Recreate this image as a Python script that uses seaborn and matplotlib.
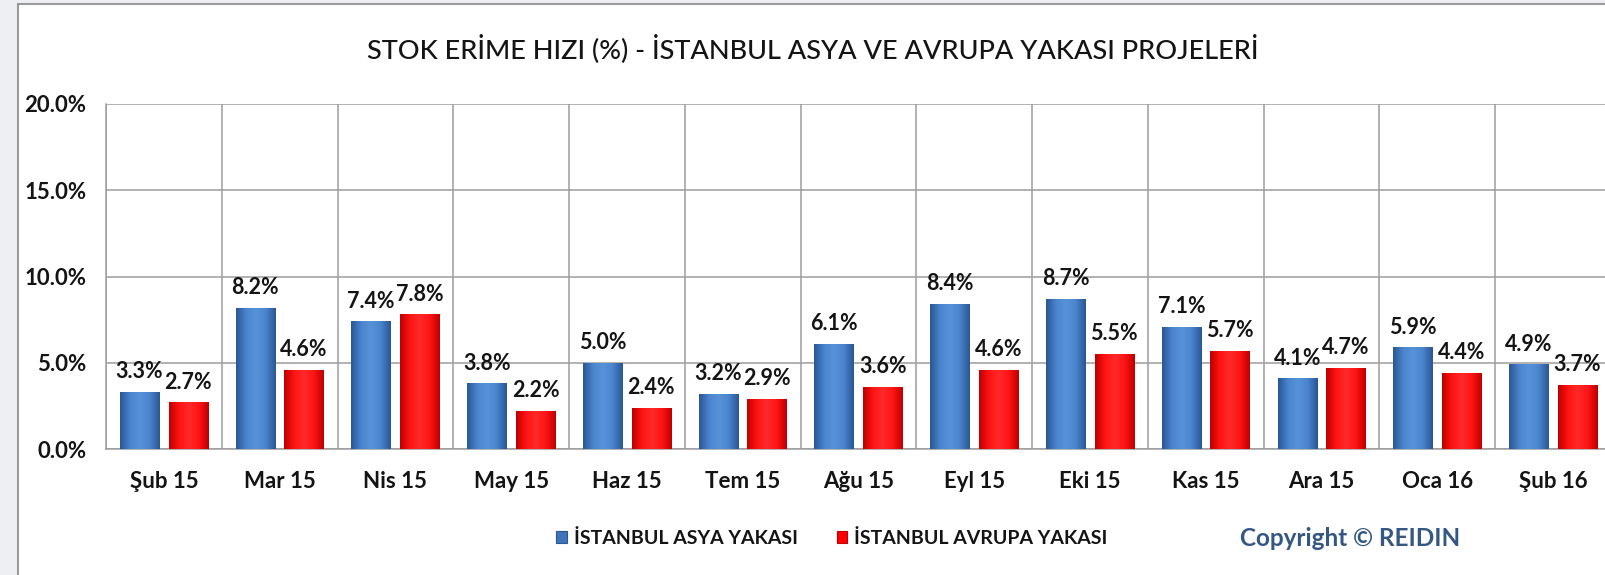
import numpy as np
import pandas as pd
import matplotlib
matplotlib.use("Agg")
import matplotlib.pyplot as plt
import seaborn as sns
from matplotlib.patches import Rectangle, Patch
from matplotlib.colors import LinearSegmentedColormap

# ---- data ----
months = ["Şub 15", "Mar 15", "Nis 15", "May 15", "Haz 15", "Tem 15", "Ağu 15",
          "Eyl 15", "Eki 15", "Kas 15", "Ara 15", "Oca 16", "Şub 16"]
asya = [3.3, 8.2, 7.4, 3.8, 5.0, 3.2, 6.1, 8.4, 8.7, 7.1, 4.1, 5.9, 4.9]
avrupa = [2.7, 4.6, 7.8, 2.2, 2.4, 2.9, 3.6, 4.6, 5.5, 5.7, 4.7, 4.4, 3.7]
series_names = ["İSTANBUL ASYA YAKASI", "İSTANBUL AVRUPA YAKASI"]
yticks = [0, 5, 10, 15, 20]
title = "STOK ERİME HIZI (%) - İSTANBUL ASYA VE AVRUPA YAKASI PROJELERİ"
copyright_text = "Copyright © REIDIN"

df = pd.DataFrame({
    "Ay": months * 2,
    "Değer": asya + avrupa,
    "Seri": [series_names[0]] * len(months) + [series_names[1]] * len(months),
})

sns.set_style("white")
plt.rcParams["font.family"] = ["Lato", "DejaVu Sans"]

BLUE = "#3F74BA"
RED = "#FF0000"
TXT = "#141414"

fig = plt.figure(figsize=(16.05, 5.75), dpi=100)
fig.patch.set_facecolor("#EDEFF2")
panel = Rectangle((18 / 1605, -0.02), 1.05, (575 - 4) / 575 + 0.02,
                  transform=fig.transFigure, facecolor="white",
                  edgecolor="#9A9A9A", linewidth=1.5, zorder=-10)
fig.patches.append(panel)

ax = fig.add_axes([106 / 1605, 126 / 575, 1505 / 1605, 345 / 575])
ax.set_facecolor("none")

sns.barplot(data=df, x="Ay", y="Değer", hue="Seri", palette=[BLUE, RED],
            width=0.84, gap=0.19, ax=ax, legend=False, saturation=1,
            zorder=3)

cmaps = [
    LinearSegmentedColormap.from_list("b", ["#2A5795", "#4A84CD", "#5893D9", "#4A84CD", "#2A5795"]),
    LinearSegmentedColormap.from_list("r", ["#C00000", "#FF1414", "#FF2A2A", "#FF1414", "#C00000"]),
]
grad = np.linspace(0, 1, 64).reshape(1, -1)
for cont, cm in zip(ax.containers, cmaps):
    for p in cont.patches:
        x0, y0 = p.get_x(), p.get_y()
        w, h = p.get_width(), p.get_height()
        im = ax.imshow(grad, cmap=cm, extent=[x0, x0 + w, y0, y0 + h],
                       aspect="auto", zorder=4, interpolation="bicubic")
        im.set_clip_path(p)
        p.set_edgecolor("none")

ax.set_xlim(-0.5, len(months) - 0.5)
ax.set_ylim(0, 20)
ax.set_yticks(yticks)
ax.set_yticklabels([f"{v:.1f}%" for v in yticks])
ax.set_xlabel("")
ax.set_ylabel("")

ax.yaxis.grid(True, color="#9C9C9C", linewidth=1.1, zorder=0)
ax.set_xticks(np.arange(len(months) + 1) - 0.5, minor=True)
ax.xaxis.grid(True, which="minor", color="#9C9C9C", linewidth=1.1, zorder=0)
ax.xaxis.grid(False, which="major")
ax.set_axisbelow(True)
for s in ["top", "right"]:
    ax.spines[s].set_visible(False)
for s in ["left", "bottom"]:
    ax.spines[s].set_color("#9C9C9C")
    ax.spines[s].set_linewidth(1.1)

ax.tick_params(axis="x", which="both", length=0, pad=28, labelsize=16)
ax.tick_params(axis="y", length=0, pad=14, labelsize=16)
for lab in ax.get_xticklabels():
    lab.set_fontweight("bold")
    lab.set_color(TXT)
    lab.set_va("baseline")
for lab in ax.get_yticklabels():
    lab.set_fontweight("bold")
    lab.set_color(TXT)

for cont, vals in zip(ax.containers, [asya, avrupa]):
    ax.bar_label(cont, labels=[f"{v:.1f}%" for v in vals], padding=7,
                 fontsize=15.5, fontweight="bold", color=TXT, zorder=6)

fig.text(813 / 1605, 1 - 49 / 575, title, ha="center", va="center",
         fontsize=19.5, fontweight="medium", color=TXT)

handles = [
    Patch(facecolor=BLUE, edgecolor="#2A5795", linewidth=0.8),
    Patch(facecolor=RED, edgecolor="#C00000", linewidth=0.8),
]
leg = fig.legend(handles, series_names, loc="center",
                 bbox_to_anchor=(832 / 1605, 37 / 575), ncol=2, frameon=False,
                 handlelength=0.55, handleheight=0.55, handletextpad=0.35,
                 columnspacing=2.0, prop={"size": 14, "weight": "bold"})
for t in leg.get_texts():
    t.set_color(TXT)

fig.text(1350 / 1605, 37 / 575, copyright_text, ha="center", va="center",
         fontsize=17.5, fontweight="bold", color="#345784")

fig.savefig("out.png", dpi=100, facecolor=fig.get_facecolor())
